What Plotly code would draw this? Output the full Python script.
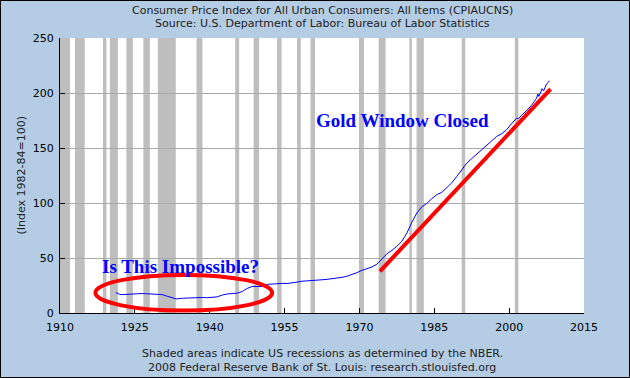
import plotly.graph_objects as go

# ---- data ----
cpi_years = [1921.2, 1922.0, 1922.6, 1923.5, 1924.5, 1925.5, 1926.5, 1927.5, 1928.5, 1929.5,
             1930.5, 1931.5, 1932.5, 1933.3, 1934.5, 1935.5, 1936.5, 1937.5, 1938.5, 1939.5,
             1940.5, 1941.5, 1942.5, 1943.5, 1944.5, 1945.5, 1946.5, 1947.5, 1948.5, 1949.5,
             1950.5, 1951.5, 1952.5, 1953.5, 1954.5, 1955.5, 1956.5, 1957.5, 1958.5, 1959.5,
             1960.5, 1961.5, 1962.5, 1963.5, 1964.5, 1965.5, 1966.5, 1967.5, 1968.5, 1969.5,
             1970.5, 1971.5, 1972.5, 1973.5, 1974.5, 1975.5, 1976.5, 1977.5, 1978.5, 1979.5,
             1980.5, 1981.5, 1982.5, 1983.5, 1984.5, 1985.5, 1986.5, 1987.5, 1988.5, 1989.5,
             1990.5, 1991.5, 1992.5, 1993.5, 1994.5, 1995.5, 1996.5, 1997.5, 1998.5, 1999.5,
             2000.5, 2001.5, 2001.9, 2002.5, 2003.5, 2004.5, 2005.5, 2005.75, 2005.95, 2006.6,
             2006.9, 2007.5, 2007.9, 2008.05]
cpi_values = [18.6, 16.9, 16.7, 17.1, 17.1, 17.5, 17.7, 17.4, 17.1, 17.1,
              16.7, 15.2, 13.7, 12.8, 13.4, 13.7, 13.9, 14.4, 14.1, 13.9,
              14.0, 14.7, 16.3, 17.3, 17.6, 18.0, 19.5, 22.3, 24.1, 23.8,
              24.1, 26.0, 26.5, 26.7, 26.9, 26.8, 27.2, 28.1, 28.9, 29.1,
              29.6, 29.9, 30.2, 30.6, 31.0, 31.5, 32.4, 33.4, 34.8, 36.7,
              38.8, 40.5, 41.8, 44.4, 49.3, 53.8, 56.9, 60.6, 65.2, 72.6,
              82.4, 90.9, 96.5, 99.6, 103.9, 107.6, 109.6, 113.6, 118.3, 124.0,
              130.7, 136.2, 140.3, 144.5, 148.2, 152.4, 156.9, 160.5, 163.0, 166.6,
              172.2, 177.1, 176.7, 179.9, 184.0, 188.9, 195.3, 199.2, 196.8, 203.9,
              201.8, 208.3, 210.0, 211.1]

trend_years = [1974.1, 2008.3]
trend_values = [37.8, 203.6]

recession_starts = [1910.0, 1913.0, 1918.6, 1920.0, 1923.3, 1926.7, 1929.6, 1937.35, 1945.1,
                    1948.8, 1953.5, 1957.5, 1960.2, 1969.9, 1973.85, 1980.0, 1981.45, 1990.5, 2001.15]
recession_ends = [1912.0, 1914.95, 1919.3, 1921.6, 1924.6, 1928.0, 1933.2, 1938.55, 1945.9,
                  1949.9, 1954.4, 1958.25, 1961.1, 1970.9, 1975.25, 1980.5, 1982.9, 1991.2, 2001.85]

x_ticks = [1910, 1925, 1940, 1955, 1970, 1985, 2000, 2015]
y_ticks = [0, 50, 100, 150, 200, 250]

title_lines = ["Consumer Price Index for All Urban Consumers: All Items (CPIAUCNS)",
               "Source: U.S. Department of Labor: Bureau of Labor Statistics"]
note_lines = ["Shaded areas indicate US recessions as determined by the NBER.",
              "2008 Federal Reserve Bank of St. Louis: research.stlouisfed.org"]

# ---- figure ----
W, H = 630, 378
ML, MR, MT, MB = 60, 46, 38, 65
PW, PH = W - ML - MR, H - MT - MB

def px_x(p):  # pixel x -> paper
    return (p - ML) / PW

def px_y(p):  # pixel y (from top) -> paper
    return (H - MB - p) / PH

BG = "#B4CDE5"
FONT = "DejaVu Sans"

fig = go.Figure()

fig.add_trace(go.Scatter(x=cpi_years, y=cpi_values, mode="lines",
                         line=dict(color="#0000FF", width=1), hoverinfo="skip"))
fig.add_trace(go.Scatter(x=trend_years, y=trend_values, mode="lines",
                         line=dict(color="#FF0000", width=4), hoverinfo="skip"))

shapes = []
for s, e in zip(recession_starts, recession_ends):
    shapes.append(dict(type="rect", xref="x", yref="paper", x0=s, x1=e, y0=0, y1=1,
                       fillcolor="#BEBEBE", line=dict(width=0), layer="below"))
# ellipse
shapes.append(dict(type="circle", xref="x", yref="y", x0=1917.1, x1=1952.5, y0=2.2, y1=34.6,
                   line=dict(color="#FF0000", width=4)))
# outer border
shapes.append(dict(type="rect", xref="paper", yref="paper",
                   x0=px_x(0.5), x1=px_x(629.5), y0=px_y(377.5), y1=px_y(0.5),
                   line=dict(color="black", width=1)))

annotations = [
    dict(text="Is This Impossible?", x=1934.2, y=42, xref="x", yref="y", showarrow=False,
         font=dict(family="Liberation Serif", size=19, color="#0000FF", weight="bold"),
         xanchor="center", yanchor="middle"),
    dict(text="Gold Window Closed", x=1978.6, y=175, xref="x", yref="y", showarrow=False,
         font=dict(family="Liberation Serif", size=19, color="#0000FF", weight="bold"),
         xanchor="center", yanchor="middle"),
    dict(text=title_lines[0], x=0.5, y=px_y(10), xref="paper", yref="paper", showarrow=False,
         xanchor="center", yanchor="middle", font=dict(family=FONT, size=11, color="#222")),
    dict(text=title_lines[1], x=0.5, y=px_y(23), xref="paper", yref="paper", showarrow=False,
         xanchor="center", yanchor="middle", font=dict(family=FONT, size=11, color="#222")),
    dict(text=note_lines[0], x=0.5, y=px_y(353), xref="paper", yref="paper", showarrow=False,
         xanchor="center", yanchor="middle", font=dict(family=FONT, size=11, color="#222")),
    dict(text=note_lines[1], x=0.5, y=px_y(367), xref="paper", yref="paper", showarrow=False,
         xanchor="center", yanchor="middle", font=dict(family=FONT, size=11, color="#222")),
    dict(text="(Index 1982-84=100)", x=px_x(21), y=0.5, xref="paper", yref="paper",
         showarrow=False, textangle=-90, xanchor="center", yanchor="middle",
         font=dict(family=FONT, size=11, color="#222")),
]

fig.update_layout(
    width=W, height=H,
    margin=dict(l=ML, r=MR, t=MT, b=MB),
    paper_bgcolor=BG, plot_bgcolor="white",
    showlegend=False,
    shapes=shapes, annotations=annotations,
    xaxis=dict(range=[1910, 2015], tickvals=x_ticks, ticktext=[str(v) for v in x_ticks],
               showgrid=False, zeroline=False, showline=True, linecolor="black", linewidth=1,
               ticks="inside", ticklen=5, tickcolor="black", ticklabelstandoff=4,
               tickfont=dict(family=FONT, size=11, color="black")),
    yaxis=dict(range=[0, 250], tickvals=y_ticks, ticktext=[str(v) for v in y_ticks],
               showgrid=True, gridcolor="#AAAAAA", gridwidth=1, zeroline=False,
               showline=True, linecolor="black", linewidth=1,
               ticks="inside", ticklen=5, tickcolor="black", ticklabelstandoff=3,
               tickfont=dict(family=FONT, size=11, color="black")),
)

fig.write_html("out.html", config={"displayModeBar": False},
               post_script="document.body.style.margin='0';document.body.style.overflow='hidden';")
